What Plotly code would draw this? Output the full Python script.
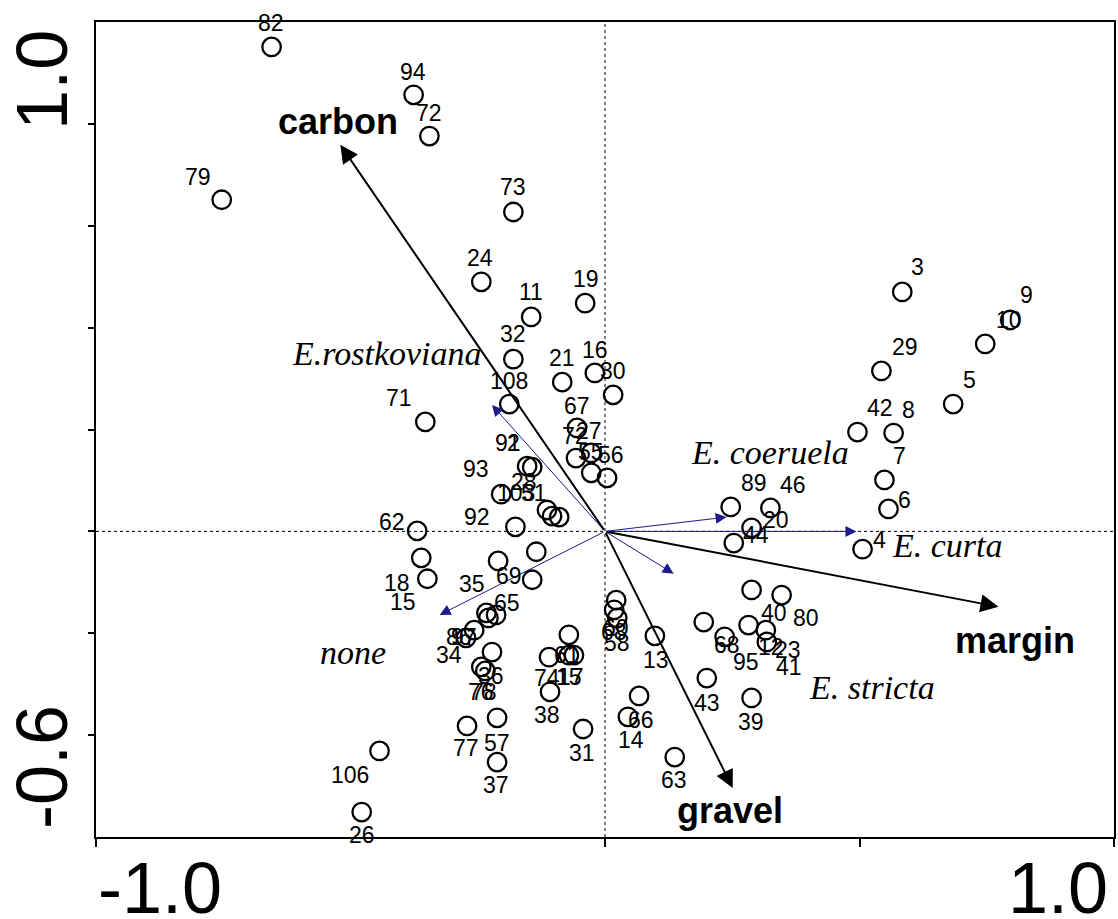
import plotly.graph_objects as go

# ---- sample scores (ordination axis 1 / axis 2) ----
sample_labels = ["82", "94", "72", "79", "73", "24", "11", "19", "32", "21",
                 "16", "30", "108", "71", "67", "72", "27", "55", "56", "91",
                 "2", "93", "28", "103", "51", "92", "62", "18", "15", "35",
                 "69", "65", "86", "97", "", "34", "", "36", "76", "78",
                 "57", "77", "37", "106", "26", "61", "74", "15", "17", "38",
                 "31", "60", "68", "58", "13", "66", "14", "63", "43", "39",
                 "40", "80", "68", "12", "23", "95", "41", "89", "46", "20",
                 "44", "4", "6", "7", "42", "8", "29", "5", "3", "10", "9"]
sample_x = [-0.655, -0.376, -0.345, -0.753, -0.180, -0.243, -0.145, -0.039, -0.180, -0.084,
            -0.020, 0.016, -0.188, -0.353, -0.055, -0.057, -0.027, -0.027, 0.004, -0.153,
            -0.143, -0.204, -0.114, -0.104, -0.090, -0.176, -0.369, -0.361, -0.349, -0.210,
            -0.135, -0.143, -0.233, -0.229, -0.214, -0.257, -0.273, -0.222, -0.243, -0.235,
            -0.212, -0.271, -0.212, -0.443, -0.478, -0.071, -0.110, -0.071, -0.061, -0.108,
            -0.043, 0.022, 0.018, 0.024, 0.098, 0.067, 0.045, 0.137, 0.200, 0.288,
            0.288, 0.347, 0.194, 0.282, 0.316, 0.235, 0.318, 0.247, 0.325, 0.288,
            0.253, 0.506, 0.557, 0.549, 0.496, 0.567, 0.543, 0.684, 0.584, 0.747, 0.796]
sample_y = [0.951, 0.857, 0.776, 0.651, 0.627, 0.490, 0.421, 0.448, 0.338, 0.293,
            0.311, 0.268, 0.250, 0.215, 0.203, 0.144, 0.154, 0.115, 0.105, 0.128,
            0.126, 0.073, 0.042, 0.030, 0.028, 0.009, 0.001, -0.052, -0.093, -0.058,
            -0.040, -0.095, -0.160, -0.170, -0.164, -0.194, -0.209, -0.237, -0.266, -0.274,
            -0.366, -0.382, -0.453, -0.431, -0.551, -0.203, -0.247, -0.243, -0.243, -0.315,
            -0.388, -0.135, -0.154, -0.170, -0.205, -0.323, -0.364, -0.443, -0.288, -0.327,
            -0.115, -0.125, -0.178, -0.184, -0.194, -0.207, -0.217, 0.048, 0.046, 0.007,
            -0.023, -0.035, 0.044, 0.101, 0.195, 0.193, 0.315, 0.250, 0.470, 0.368, 0.415]

# ---- environmental variables (black arrows) ----
env_names = ["carbon", "margin", "gravel"]
env_x = [-0.520, 0.773, 0.251]
env_y = [0.759, -0.148, -0.504]

# ---- species (blue arrows) ----
spec_names = ["E.rostkoviana", "none", "E. coeruela", "E. curta", "E. stricta"]
spec_x = [-0.222, -0.325, 0.239, 0.494, 0.135]
spec_y = [0.248, -0.164, 0.028, 0.000, -0.083]

# ---- layout-only: label offsets (pixels, dx right, dy down) and text placements ----
label_dx = [-1, -1, 0, -24, 0, -1, 0, 1, 0, 0,
            0, 0, 0, -26, 0, -1, -2, 0, 4, -19,
            -19, -25, -23, -36, -25, -38, -25, -24, -24, -26,
            -27, -25, -27, -24, 0, -25, 0, -1, 0, -1,
            0, -1, -1, -30, 0, -2, -2, 0, -3, -3,
            -1, 0, 0, 0, 1, 2, 3, -1, 0, -1,
            22, 24, 23, 22, 22, 21, 22, 23, 23, 24,
            22, 17, 16, 15, 23, 15, 24, 16, 15, 24, 16]
label_dy = [-24, -23, -23, -23, -25, -24, -25, -24, -25, -24,
            -23, -24, -23, -24, -22, -22, -22, -21, -23, -23,
            -24, -25, -28, -23, -24, -10, -9, 25, 23, 23,
            24, 23, 24, 19, 0, 25, 0, 24, 25, 21,
            25, 22, 23, 24, 23, 20, 21, 22, 22, 23,
            24, 28, 22, 25, 24, 24, 23, 23, 25, 24,
            23, 23, 23, 22, 20, 25, 25, -24, -23, -8,
            -8, -9, -9, -24, -24, -23, -24, -24, -25, -24, -25]
env_label_pos = [(-0.524, 0.804), (0.806, -0.215), (0.245, -0.547)]
spec_label_pos = [(-0.429, 0.350), (-0.496, -0.237), (0.325, 0.154), (0.673, -0.027), (0.525, -0.307)]

SANS = "Liberation Sans, Arial, sans-serif"
SERIF = "Liberation Serif, Times New Roman, serif"
BLUE = "#1e1a8c"

fig = go.Figure()

annotations = []
# species arrows
for sx, sy in zip(spec_x, spec_y):
    annotations.append(dict(x=sx, y=sy, ax=0, ay=0, xref="x", yref="y", axref="x", ayref="y",
                            text="", showarrow=True, arrowhead=2, arrowsize=2.2, arrowwidth=1,
                            arrowcolor=BLUE, standoff=0))
# environmental arrows
for ex, ey in zip(env_x, env_y):
    annotations.append(dict(x=ex, y=ey, ax=0, ay=0, xref="x", yref="y", axref="x", ayref="y",
                            text="", showarrow=True, arrowhead=2, arrowsize=1.8, arrowwidth=2,
                            arrowcolor="black", standoff=0))

fig.add_trace(go.Scatter(
    x=sample_x, y=sample_y, mode="markers",
    marker=dict(symbol="circle-open", size=18.5, color="black", line=dict(width=2.3)),
    hoverinfo="skip", showlegend=False))

for lab, x, y, dx, dy in zip(sample_labels, sample_x, sample_y, label_dx, label_dy):
    if not lab:
        continue
    annotations.append(dict(x=x, y=y, xref="x", yref="y", text=lab, showarrow=False,
                            xshift=dx, yshift=-dy, xanchor="center", yanchor="middle",
                            font=dict(family=SANS, size=23, color="black")))

for name, (lx, ly) in zip(env_names, env_label_pos):
    annotations.append(dict(x=lx, y=ly, xref="x", yref="y", text="<b>%s</b>" % name,
                            showarrow=False, xanchor="center", yanchor="middle",
                            font=dict(family=SANS, size=36, color="black")))

for name, (lx, ly) in zip(spec_names, spec_label_pos):
    annotations.append(dict(x=lx, y=ly, xref="x", yref="y", text="<i>%s</i>" % name,
                            showarrow=False, xanchor="center", yanchor="middle",
                            font=dict(family=SERIF, size=34, color="black")))

# axis end labels
annotations += [
    dict(x=0, y=-0.063, xref="paper", yref="paper", text="-1.0", showarrow=False,
         xanchor="left", yanchor="middle", xshift=0, font=dict(family=SANS, size=72, color="black")),
    dict(x=1, y=-0.063, xref="paper", yref="paper", text="1.0", showarrow=False,
         xanchor="right", yanchor="middle", xshift=-4, font=dict(family=SANS, size=72, color="black")),
    dict(x=-0.053, y=0.929, xref="paper", yref="paper", text="1.0", showarrow=False, textangle=-90,
         xanchor="center", yanchor="middle", font=dict(family=SANS, size=72, color="black")),
    dict(x=-0.053, y=0.086, xref="paper", yref="paper", text="-0.6", showarrow=False, textangle=-90,
         xanchor="center", yanchor="middle", font=dict(family=SANS, size=72, color="black")),
]

shapes = [
    dict(type="line", xref="x", yref="y", x0=-1, x1=1, y0=0, y1=0,
         line=dict(color="black", width=1, dash="3px,3px"), layer="below"),
    dict(type="line", xref="x", yref="y", x0=0, x1=0, y0=-0.6, y1=1.0,
         line=dict(color="black", width=1, dash="3px,3px"), layer="below"),
]

fig.update_layout(
    width=1118, height=919,
    margin=dict(l=96, r=2, t=22, b=82, pad=0),
    paper_bgcolor="white", plot_bgcolor="white",
    showlegend=False,
    annotations=annotations, shapes=shapes,
    xaxis=dict(range=[-1, 1], showgrid=False, zeroline=False, showline=True, linecolor="black",
               linewidth=2, mirror=True, ticks="outside", tickvals=[-1, 0, 0.5, 1], ticklen=8,
               tickwidth=2, tickcolor="black", showticklabels=False, fixedrange=True),
    yaxis=dict(range=[-0.6, 1.0], showgrid=False, zeroline=False, showline=True, linecolor="black",
               linewidth=2, mirror=True, ticks="outside",
               tickvals=[-0.4, -0.2, 0, 0.2, 0.4, 0.6, 0.8], ticklen=6,
               tickwidth=2, tickcolor="black", showticklabels=False, fixedrange=True),
)

fig.write_html("out.html")
